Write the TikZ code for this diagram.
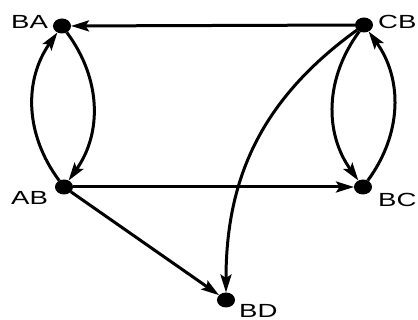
\documentclass[tikz,border=0pt]{standalone}
\usepackage{fontspec}
\usepackage{graphicx}
\setmainfont{Liberation Sans}
\usetikzlibrary{arrows.meta,shapes.geometric}
\newcommand\widetxt[1]{\scalebox{1.45}[1]{#1}}
\tikzset{
  dotnode/.style={ellipse,fill=black,draw=none,minimum width=18pt,minimum height=15pt,inner sep=0pt,outer sep=0pt},
  lab/.style={anchor=west,inner sep=0pt,font=\fontsize{19}{19}\selectfont},
  arr/.style={line width=3pt,-{Stealth[length=18pt,width=11pt,inset=3.5pt]}},
}
\begin{document}
\begin{tikzpicture}[x=1pt,y=1pt]
\useasboundingbox (0,0) rectangle (418,-320);
\node[dotnode] (BA) at (62,-26) {};
\node[dotnode] (CB) at (364,-25) {};
\node[dotnode] (AB) at (64,-187) {};
\node[dotnode] (BC) at (363,-187) {};
\node[dotnode] (BD) at (226,-300) {};
\node[lab] (lBA) at (11,-21.5) {\widetxt{BA}};
\node[lab] (lCB) at (378,-21.5) {\widetxt{CB}};
\node[lab] (lAB) at (11,-198) {\widetxt{AB}};
\node[lab] (lBC) at (378,-199.5) {\widetxt{BC}};
\node[lab] (lBD) at (239,-310.5) {\widetxt{BD}};
\draw[arr] (CB) -- (BA);
\draw[arr] (AB) to[bend left=36] (BA);
\draw[arr] (BA) to[bend left=36] (AB);
\draw[arr] (CB) to[bend right=36] (BC);
\draw[arr] (BC) to[bend right=36] (CB);
\draw[arr] (AB) -- (BC);
\draw[arr] (AB) -- (BD);
\draw[arr] (CB) .. controls (260,-100) and (226,-180) .. (BD);
\end{tikzpicture}
\end{document}
